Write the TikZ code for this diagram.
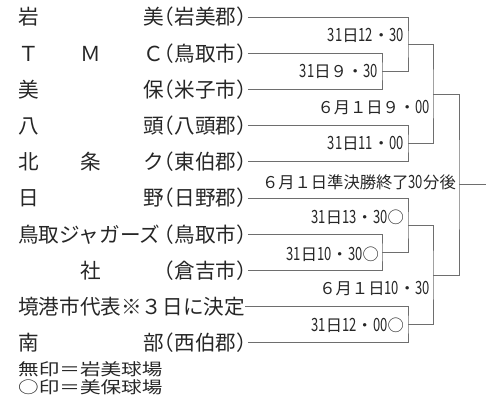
\documentclass[tikz,border=0pt]{standalone}
\usepackage{fontspec}
\newfontfamily\jp{Noto Sans CJK JP}
\definecolor{brline}{HTML}{6E6E6E}
\definecolor{brtext}{HTML}{262626}
\newcommand{\nd}[1]{\scalebox{.8}[1.12]{#1}}
\newcommand{\pn}[1]{\kern-.45em（#1）\kern-.45em}

\begin{document}
\begin{tikzpicture}[x=1pt,y=-1pt,
  nm/.style={anchor=west,inner sep=0pt,text height=17pt,text depth=1.2pt,
    font=\fontsize{20.6}{22}\jp,text=brtext},
  tm/.style={anchor=east,inner sep=0pt,text height=13.5pt,text depth=1pt,
    font=\fontsize{16.3}{18}\jp,text=brtext},
  ln/.style={draw=brline,line width=.9pt}]
  \useasboundingbox (0,0) rectangle (500,407);
  % teams
  \node[nm] (iwami1) at (18,17) {岩};
  \node[nm] (iwami2) at (142.8,17) {美};
  \node[nm] (iwami) at (163,17) {\pn{岩美郡}};
  \node[nm] (tmc1) at (18,53.2) {Ｔ};
  \node[nm] (tmc2) at (80.4,53.2) {Ｍ};
  \node[nm] (tmc3) at (142.8,53.2) {Ｃ};
  \node[nm] (tmc) at (163,53.2) {\pn{鳥取市}};
  \node[nm] (miho1) at (18,89.4) {美};
  \node[nm] (miho2) at (142.8,89.4) {保};
  \node[nm] (miho) at (163,89.4) {\pn{米子市}};
  \node[nm] (yazu1) at (18,125.6) {八};
  \node[nm] (yazu2) at (142.8,125.6) {頭};
  \node[nm] (yazu) at (163,125.6) {\pn{八頭郡}};
  \node[nm] (hojo1) at (18,161.8) {北};
  \node[nm] (hojo2) at (80.4,161.8) {条};
  \node[nm] (hojo3) at (142.8,161.8) {ク};
  \node[nm] (hojo) at (163,161.8) {\pn{東伯郡}};
  \node[nm] (hino1) at (18,198) {日};
  \node[nm] (hino2) at (142.8,198) {野};
  \node[nm] (hino) at (163,198) {\pn{日野郡}};
  \node[nm] (jag1) at (18,234.2) {鳥取ジャガーズ};
  \node[nm] (jag) at (163,234.2) {\pn{鳥取市}};
  \node[nm] (yashiro1) at (80.4,270.4) {社};
  \node[nm] (yashiro) at (163,270.4) {\pn{倉吉市}};
  \node[nm] (sakai) at (18,306.6) {境港市代表※３日に決定};
  \node[nm] (nanbu1) at (18,342.8) {南};
  \node[nm] (nanbu2) at (142.8,342.8) {部};
  \node[nm] (nanbu) at (163,342.8) {\pn{西伯郡}};
  % legend
  \node[nm] (leg1) at (18,367.3) {\scalebox{1}[.8]{無印＝岩美球場}};
  \node[nm] (leg2) at (18,385.3) {\scalebox{1}[.8]{○印＝美保球場}};
  % joints
  \coordinate (b23) at (382,71.3);
  \coordinate (b12) at (408,44.2);
  \coordinate (b45) at (408,143.7);
  \coordinate (s1) at (433,94);
  \coordinate (b78) at (382,252.3);
  \coordinate (b67) at (408,225.2);
  \coordinate (b910) at (408,324.7);
  \coordinate (s2) at (433,275);
  \coordinate (fin) at (459,184.5);
  \coordinate (win) at (486,184.5);
  \draw[ln] (tmc.east) -| (b23) |- (miho.east);
  \draw[ln] (iwami.east) -| (b12) |- (b23);
  \draw[ln] (yazu.east) -| (b45) |- (hojo.east);
  \draw[ln] (b12) -| (s1) |- (b45);
  \draw[ln] (jag.east) -| (b78) |- (yashiro.east);
  \draw[ln] (hino.east) -| (b67) |- (b78);
  \draw[ln] (sakai.east) -| (b910) |- (nanbu.east);
  \draw[ln] (b67) -| (s2) |- (b910);
  \draw[ln] (s1) -| (fin) |- (s2);
  \draw[ln] (fin) -- (win);
  % game times
  \node[tm] (g12) at (404,35) {\nd{31}日\nd{12}・\nd{30}};
  \node[tm] (g23) at (378,71.3) {\nd{31}日９・\nd{30}};
  \node[tm] (gs1) at (430,107) {６月１日９・\nd{00}};
  \node[tm] (g45) at (404,143.7) {\nd{31}日\nd{11}・\nd{00}};
  \node[tm] (gfin) at (456,182) {６月１日準決勝終了\nd{30}分後};
  \node[tm] (g67) at (404,217) {\nd{31}日\nd{13}・\nd{30}○};
  \node[tm] (g78) at (379,254) {\nd{31}日\nd{10}・\nd{30}○};
  \node[tm] (gs2) at (430,288) {６月１日\nd{10}・\nd{30}};
  \node[tm] (g910) at (404,325) {\nd{31}日\nd{12}・\nd{00}○};
\end{tikzpicture}
\end{document}
